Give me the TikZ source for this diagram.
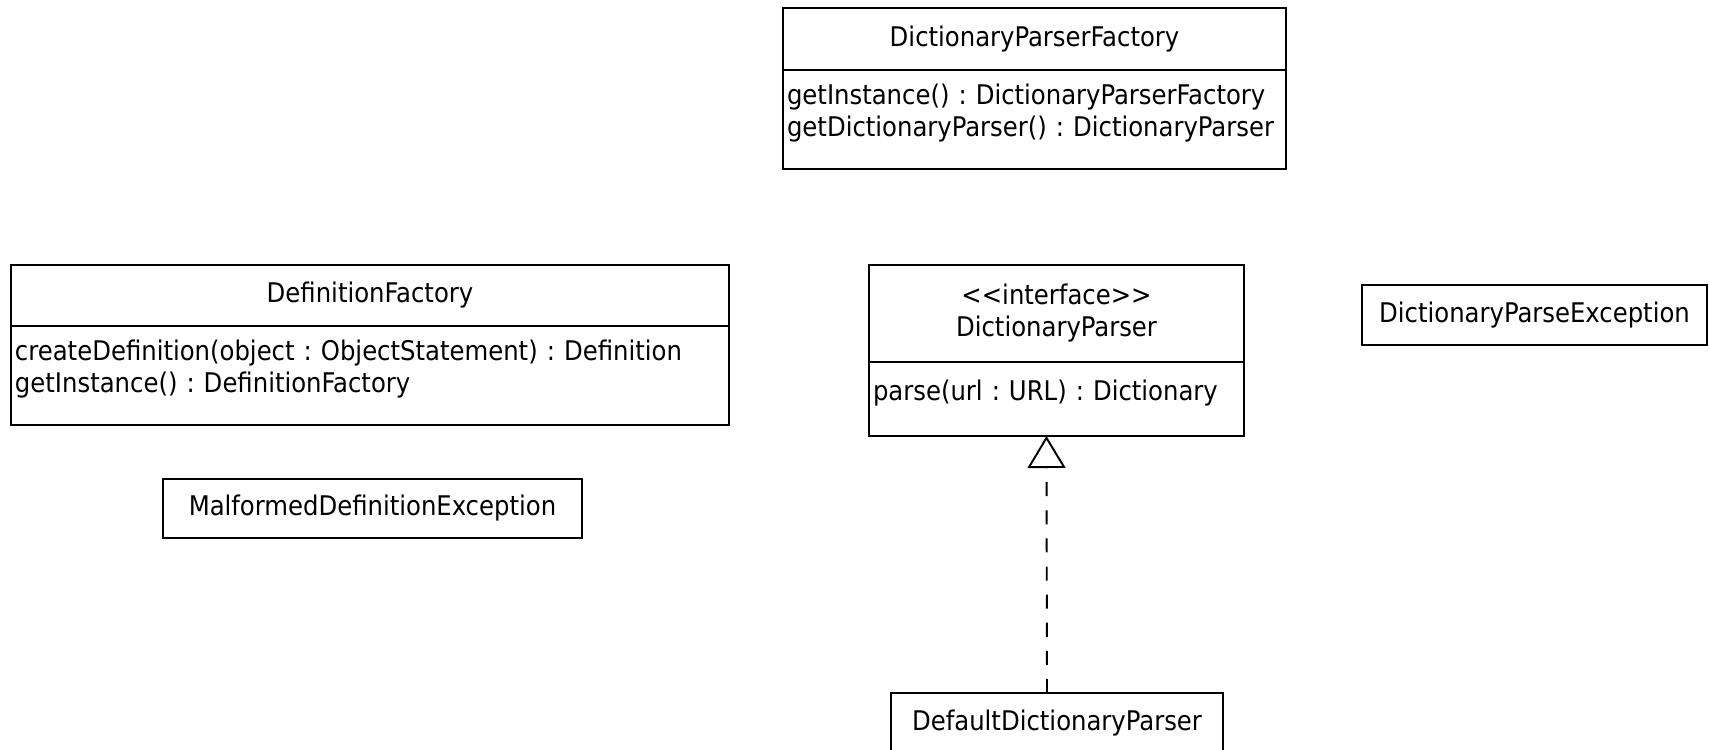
\documentclass[tikz,border=0pt]{standalone}
\usepackage{fontspec}
\setmainfont{DejaVu Sans Condensed}
\frenchspacing
\usetikzlibrary{arrows.meta}

\newcommand{\px}{0.02cm}
\tikzset{
  classhead/.style={draw, line width=1.1pt, anchor=north west, outer sep=0pt, inner sep=0pt, align=center},
  classops/.style={draw, line width=1.1pt, anchor=north west, outer sep=0pt, inner xsep=0.08cm, inner ysep=0pt,
    align=left, execute at end node={\rule[-10.4pt]{0pt}{10.4pt}}},
  realizes/.style={line width=1.1pt, dash pattern=on 8pt off 8pt,
    -{Triangle[open, length=32*\px, width=38*\px]}},
}

\begin{document}
\begin{tikzpicture}[x=0.02cm, y=-0.02cm, font=\fontsize{15.4}{18.2}\selectfont]
      \useasboundingbox (0,0) rectangle (1710,750);

      %% factory for the parsers
      \node[classhead, minimum width=503*\px, minimum height=62*\px] (dpf) at (783,8) {DictionaryParserFactory};
      \node[classops, text width=9.9cm, minimum height=99*\px] (dpfops) at (dpf.south west)
        {getInstance() : DictionaryParserFactory\\getDictionaryParser() : DictionaryParser};

      %% definitions
      \node[classhead, minimum width=718*\px, minimum height=61*\px] (df) at (11,265) {DefinitionFactory};
      \node[classops, text width=14.2cm, minimum height=99*\px] (dfops) at (df.south west)
        {createDefinition(object : ObjectStatement) : Definition\\getInstance() : DefinitionFactory};
      \node[classhead, minimum width=419*\px, minimum height=59*\px] (mde) at (163,479) {MalformedDefinitionException};

      %% parser interface and its implementation
      \node[classhead, minimum width=375*\px, minimum height=97*\px] (dp) at (869,265)
        {<{}<interface>{}>\\DictionaryParser};
      \node[classops, text width=7.34cm, minimum height=74*\px] (dpops) at (dp.south west)
        {parse(url : URL) : Dictionary};
      \node[classhead, minimum width=332*\px, minimum height=60*\px] (ddp) at (891,693) {DefaultDictionaryParser};
      \node[classhead, minimum width=345*\px, minimum height=60*\px] (dpe) at (1362,285) {DictionaryParseException};

      \draw[realizes] ([xshift=-10*\px]ddp.north) -- ([xshift=-10*\px]dpops.south);

\end{tikzpicture}
\end{document}
